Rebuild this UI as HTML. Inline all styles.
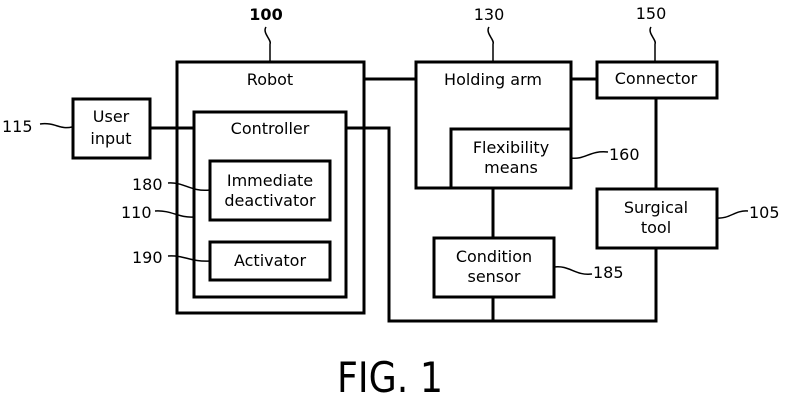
<!DOCTYPE html>
<html><head><meta charset="utf-8"><style>
html,body{margin:0;padding:0;background:#fff;}
svg{display:block;}
text{font-family:"DejaVu Sans","Liberation Sans",sans-serif;font-size:16px;fill:#000;}
</style></head><body>
<svg width="787" height="403" viewBox="0 0 787 403" xmlns="http://www.w3.org/2000/svg">
<g fill="none" stroke="#000" stroke-width="3">
<rect x="177" y="62" width="187" height="251"/>
<rect x="194" y="112" width="152" height="185"/>
<rect x="210" y="161" width="120" height="59"/>
<rect x="210" y="242" width="120" height="38"/>
<rect x="73" y="99" width="77" height="59"/>
<rect x="416" y="62" width="155" height="126"/>
<rect x="451" y="129" width="120" height="59"/>
<rect x="597" y="62" width="120" height="36"/>
<rect x="597" y="189" width="120" height="59"/>
<rect x="434" y="238" width="120" height="59"/>
<polyline points="150,128 194,128"/>
<polyline points="364,79 416,79"/>
<polyline points="571,79 597,79"/>
<polyline points="346,128 389,128 389,321 656,321 656,248"/>
<polyline points="656,98 656,189"/>
<polyline points="493,188 493,238"/>
<polyline points="493,297 493,321"/>
</g>
<g fill="none" stroke="#000" stroke-width="1.5">
<path d="M266,27 C262,33 272,40 270,44 L270,62"/>
<path d="M489,27 C485,33 495,40 493,44 L493,62"/>
<path d="M651,27 C647,33 657,40 655,44 L655,62"/>
<path d="M40,124 C55,122 60,130 72,127"/>
<path d="M168,183 C185,182 190,192 210,190"/>
<path d="M155,211 C172,210 178,218 194,217"/>
<path d="M168,256 C185,255 190,262 210,261"/>
<path d="M571,158 C585,160 590,150 608,152"/>
<path d="M717,218 C730,219 735,210 748,211"/>
<path d="M554,267 C570,265 575,276 592,274"/>
</g>
<g text-anchor="middle">
<text x="266" y="20" font-weight="bold">100</text>
<text x="489" y="20">130</text>
<text x="651" y="19">150</text>
<text x="270" y="85">Robot</text>
<text x="270" y="134">Controller</text>
<text x="270" y="186">Immediate</text>
<text x="270" y="206">deactivator</text>
<text x="270" y="266">Activator</text>
<text x="111" y="122">User</text>
<text x="111" y="144">input</text>
<text x="493" y="85">Holding arm</text>
<text x="511" y="153">Flexibility</text>
<text x="511" y="173">means</text>
<text x="656" y="84">Connector</text>
<text x="656" y="213">Surgical</text>
<text x="656" y="233">tool</text>
<text x="494" y="262">Condition</text>
<text x="494" y="282">sensor</text>
</g>
<text x="2" y="132">115</text>
<text x="132" y="190">180</text>
<text x="121" y="218">110</text>
<text x="132" y="263">190</text>
<text x="609" y="160">160</text>
<text x="749" y="218">105</text>
<text x="593" y="278">185</text>
<text x="337" y="392" style="font-size:42px" textLength="106" lengthAdjust="spacingAndGlyphs">FIG. 1</text>
</svg>
</body></html>
